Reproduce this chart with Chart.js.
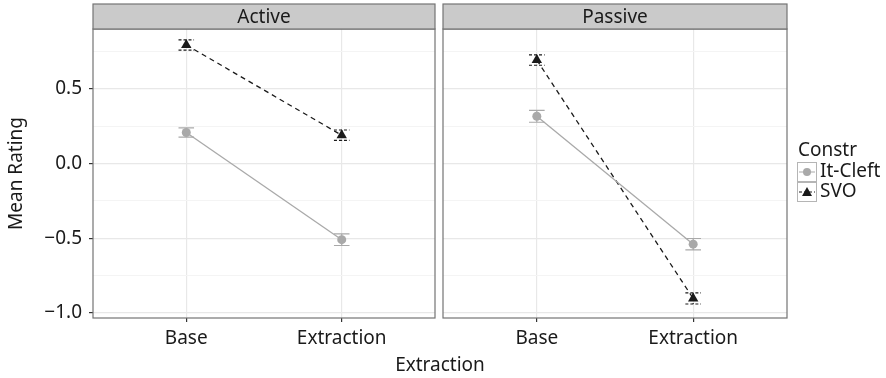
<!DOCTYPE html>
<html>
<head>
<meta charset="utf-8">
<script src="https://cdn.jsdelivr.net/npm/chart.js@4.4.1/dist/chart.umd.min.js"></script>
<style>
  html, body { margin: 0; padding: 0; background: #fff; }
  #wrap { position: relative; width: 886px; height: 378px; }
  #wrap canvas { position: absolute; left: 0; top: 0; }
</style>
</head>
<body>
<div id="wrap">
  <canvas id="active" width="886" height="378"></canvas>
  <canvas id="passive" width="886" height="378"></canvas>
</div>
<script>
const categories = ['Base', 'Extraction'];
const panels = ['Active', 'Passive'];
const seriesNames = ['It-Cleft', 'SVO'];
const yTicks = [-1.0, -0.5, 0.0, 0.5];

const itCleftActive = [0.208, -0.51];
const itCleftActiveSe = [0.031, 0.039];
const svoActive = [0.795, 0.19];
const svoActiveSe = [0.034, 0.035];

const itCleftPassive = [0.317, -0.54];
const itCleftPassiveSe = [0.04, 0.038];
const svoPassive = [0.694, -0.904];
const svoPassiveSe = [0.035, 0.037];

const FONT = "'Noto Sans', sans-serif";
const TEXT = '#1a1a1a';
const GREY = '#a9a9a9';

Chart.defaults.font.family = FONT;
Chart.defaults.font.size = 19;
Chart.defaults.color = TEXT;

function isMajor(v) {
  return yTicks.some(t => Math.abs(t - v) < 1e-6);
}

function fmt(v) {
  const s = Math.abs(v).toFixed(1);
  return v < -1e-9 ? '\u2212' + s : s;
}

function pts(vals, se) {
  return vals.map((v, i) => ({ x: i + 1, y: v, se: se[i] }));
}

// error bars, strip and panel frame
const facetPlugin = {
  id: 'facet',
  beforeDatasetsDraw(chart) {
    const ctx = chart.ctx;
    const xs = chart.scales.x, ys = chart.scales.y;
    chart.data.datasets.forEach(ds => {
      ctx.save();
      ctx.strokeStyle = ds.borderColor;
      ctx.lineWidth = 1.2;
      ctx.setLineDash(ds.borderDash && ds.borderDash.length ? [3, 2] : []);
      ds.data.forEach(p => {
        const x = xs.getPixelForValue(p.x);
        const x0 = xs.getPixelForValue(p.x - 0.05);
        const x1 = xs.getPixelForValue(p.x + 0.05);
        const yt = ys.getPixelForValue(p.y + p.se);
        const yb = ys.getPixelForValue(p.y - p.se);
        ctx.beginPath();
        ctx.moveTo(x0, yt); ctx.lineTo(x1, yt);
        ctx.moveTo(x, yt); ctx.lineTo(x, yb);
        ctx.moveTo(x0, yb); ctx.lineTo(x1, yb);
        ctx.stroke();
      });
      ctx.restore();
    });
  },
  afterDraw(chart, args, opts) {
    const ctx = chart.ctx;
    const a = chart.chartArea;
    ctx.save();
    ctx.lineWidth = 1.2;
    ctx.strokeStyle = '#747474';
    ctx.strokeRect(a.left, a.top, a.right - a.left, a.bottom - a.top);
    ctx.fillStyle = '#cacaca';
    ctx.fillRect(a.left, 4, a.right - a.left, a.top - 4);
    ctx.strokeRect(a.left, 4, a.right - a.left, a.top - 4);
    ctx.fillStyle = TEXT;
    ctx.font = '19px ' + FONT;
    ctx.textAlign = 'center';
    ctx.textBaseline = 'alphabetic';
    ctx.fillText(opts.title, (a.left + a.right) / 2, 23);
    if (opts.xTitle) {
      ctx.fillText(opts.xTitle, 440, 371);
    }
    if (opts.legend) {
      ctx.textAlign = 'left';
      ctx.fillText('Constr', 798, 156);
      const rows = [
        { name: seriesNames[0], top: 162, color: GREY, dash: [], shape: 'circle' },
        { name: seriesNames[1], top: 182, color: TEXT, dash: [3, 2], shape: 'triangle' }
      ];
      rows.forEach(r => {
        ctx.save();
        ctx.lineWidth = 1;
        ctx.strokeStyle = '#b5b5b5';
        ctx.strokeRect(797.5, r.top + 0.5, 19, 19);
        ctx.strokeStyle = r.color;
        ctx.setLineDash(r.dash);
        ctx.beginPath();
        ctx.moveTo(799, r.top + 10);
        ctx.lineTo(815, r.top + 10);
        ctx.stroke();
        ctx.restore();
        ctx.fillStyle = r.color;
        ctx.beginPath();
        if (r.shape === 'circle') {
          ctx.arc(807, r.top + 10, 4, 0, Math.PI * 2);
        } else {
          ctx.moveTo(807, r.top + 5);
          ctx.lineTo(812, r.top + 14);
          ctx.lineTo(802, r.top + 14);
          ctx.closePath();
        }
        ctx.fill();
        ctx.fillStyle = TEXT;
        ctx.fillText(r.name, 820, r.top + 15);
      });
    }
    ctx.restore();
  }
};

function makePanel(id, title, itCleft, itCleftSe, svo, svoSe, first) {
  return new Chart(document.getElementById(id), {
    type: 'line',
    data: {
      datasets: [
        {
          label: seriesNames[0],
          data: pts(itCleft, itCleftSe),
          borderColor: GREY,
          backgroundColor: GREY,
          borderWidth: 1.3,
          pointStyle: 'circle',
          pointRadius: 4.5,
          pointBorderWidth: 0,
          pointBackgroundColor: GREY
        },
        {
          label: seriesNames[1],
          data: pts(svo, svoSe),
          borderColor: TEXT,
          backgroundColor: TEXT,
          borderWidth: 1.3,
          borderDash: [5, 4],
          pointStyle: 'triangle',
          pointRadius: 6,
          pointBorderWidth: 0,
          pointBackgroundColor: TEXT
        }
      ]
    },
    options: {
      responsive: false,
      animation: false,
      devicePixelRatio: 1,
      layout: {
        padding: first
          ? { top: 29, left: 0, right: 886 - 435, bottom: 0 }
          : { top: 29, left: 443, right: 886 - 787, bottom: 0 }
      },
      plugins: {
        legend: { display: false },
        tooltip: { enabled: false },
        facet: { title: title, xTitle: first ? 'Extraction' : null, legend: !first }
      },
      scales: {
        x: {
          type: 'linear',
          min: 0.4,
          max: 2.6,
          afterBuildTicks: axis => { axis.ticks = categories.map((c, i) => ({ value: i + 1 })); },
          afterFit: scale => { scale.height = 60; },
          border: { display: false },
          grid: { color: '#e8e8e8', lineWidth: 1.2, tickColor: '#333', tickLength: 4, tickWidth: 1.2 },
          ticks: {
            autoSkip: false, maxRotation: 0, padding: 5, color: TEXT,
            callback: v => categories[Math.round(v) - 1]
          }
        },
        y: {
          min: -1.035,
          max: 0.902,
          afterFit: scale => { scale.width = first ? 93 : 0; },
          border: { display: false },
          grid: {
            color: c => isMajor(c.tick.value) ? '#e8e8e8' : '#f4f4f4',
            lineWidth: c => isMajor(c.tick.value) ? 1.2 : 1,
            drawTicks: first,
            tickColor: c => isMajor(c.tick.value) ? '#333' : 'rgba(0,0,0,0)',
            tickLength: 4,
            tickWidth: 1.2
          },
          ticks: {
            display: first,
            stepSize: 0.25,
            includeBounds: false,
            padding: 7,
            color: TEXT,
            callback: v => isMajor(v) ? fmt(v) : ''
          },
          title: {
            display: first,
            text: 'Mean Rating',
            color: TEXT,
            padding: { top: 5, bottom: 0 }
          }
        }
      }
    },
    plugins: [facetPlugin]
  });
}

makePanel('active', panels[0], itCleftActive, itCleftActiveSe, svoActive, svoActiveSe, true);
makePanel('passive', panels[1], itCleftPassive, itCleftPassiveSe, svoPassive, svoPassiveSe, false);
</script>
</body>
</html>
